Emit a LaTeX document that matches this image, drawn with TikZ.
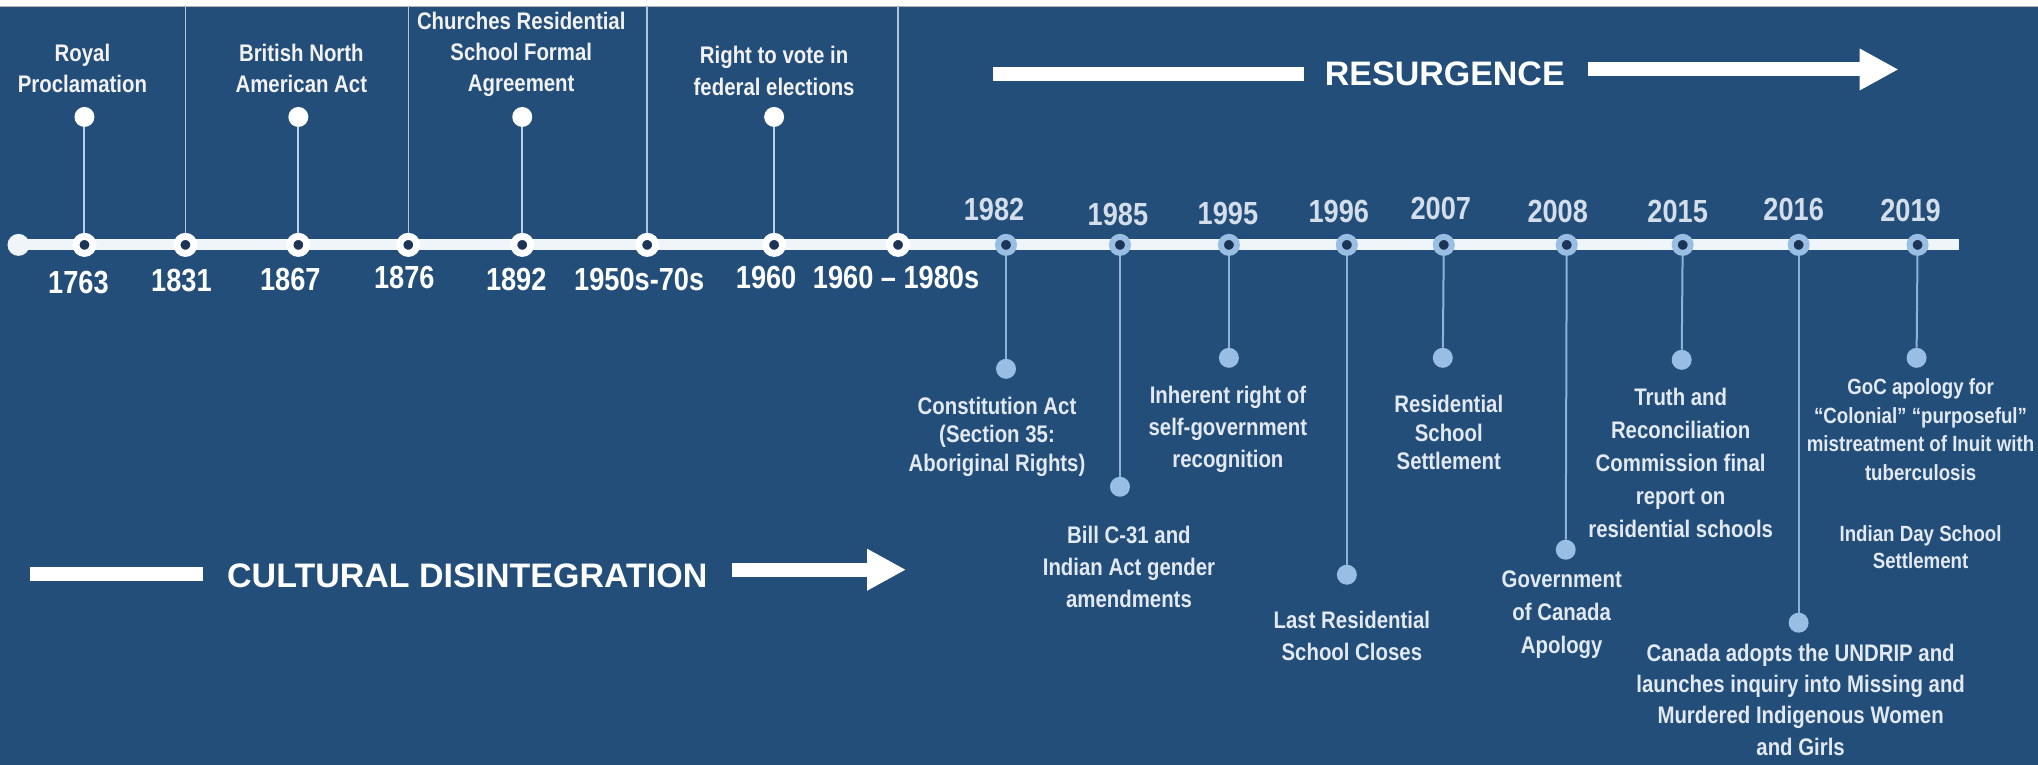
\documentclass[tikz,border=0pt]{standalone}
\usepackage{fontspec}
\setmainfont{Liberation Sans}[FakeStretch=0.85]
\newfontfamily\plainsans{Liberation Sans}
\usetikzlibrary{arrows.meta}
\definecolor{bgblue}{RGB}{35,78,122}
\definecolor{dotdark}{RGB}{28,52,86}
\definecolor{pinblue}{RGB}{152,190,228}
\definecolor{stemblue}{RGB}{140,178,218}
\definecolor{sepgray}{RGB}{178,196,218}
\definecolor{labellight}{RGB}{226,233,241}
\definecolor{yearlight}{RGB}{212,222,234}
\definecolor{axiswhite}{RGB}{240,245,250}
\begin{document}
\begin{tikzpicture}[x=1pt,y=-1pt,
  oldtick/.style={circle,draw=white,line width=7pt,fill=dotdark,minimum size=17pt,inner sep=0pt},
  newtick/.style={circle,draw=pinblue,line width=6pt,fill=dotdark,minimum size=16pt,inner sep=0pt},
  startdot/.style={circle,fill=axiswhite,minimum size=22pt,inner sep=0pt},
  uppin/.style={circle,fill=white,minimum size=20pt,inner sep=0pt},
  lowpin/.style={circle,fill=pinblue,minimum size=20pt,inner sep=0pt},
  upstem/.style={draw=stemblue!60!white,line width=2pt},
  lowstem/.style={draw=stemblue,line width=2pt},
  sepline/.style={draw=sepgray,line width=1.6pt},
  axis/.style={draw=axiswhite,line width=11pt},
  oldyear/.style={inner sep=0pt,text=white,font=\fontsize{32}{36}\selectfont\bfseries},
  newyear/.style={inner sep=0pt,text=yearlight,font=\fontsize{32}{36}\selectfont\bfseries},
  uplbl/.style={inner sep=0pt,align=center,text=white!95!black,font=\fontsize{24}{31}\selectfont\bfseries},
  lowlbl/.style={inner sep=0pt,align=center,text=labellight,font=\fontsize{24}{32}\selectfont\bfseries},
  eralbl/.style={inner sep=0pt,text=white,font=\plainsans\fontsize{34}{38}\selectfont\bfseries},
  erabar/.style={draw=white,line width=14pt},
  eraarrow/.style={draw=white,line width=14pt,-{Triangle[length=39pt,width=39pt]}}
]
% backdrop
\fill[white] (0,0) rectangle (2038,765);
\fill[bgblue] (0,7) rectangle (2038,765);
\draw[gray!60,line width=1pt] (0,7) -- (2038,7);
\useasboundingbox (0,0) rectangle (2038,765);

% main axis
\coordinate (axstart) at (18,245);
\coordinate (axend) at (1959,245);
\draw[axis] (axstart) -- (axend);
\node[startdot] (start) at (axstart) {};

% ticks on the axis
\node[oldtick] (n1763) at (84,245) {};
\node[oldtick] (n1831) at (185,245) {};
\node[oldtick] (n1867) at (298,245) {};
\node[oldtick] (n1876) at (408,245) {};
\node[oldtick] (n1892) at (522,245) {};
\node[oldtick] (n1950) at (647,245) {};
\node[oldtick] (n1960) at (774,245) {};
\node[oldtick] (n1960b) at (898,245) {};
\node[newtick] (n1982) at (1006,245) {};
\node[newtick] (n1985) at (1120,245) {};
\node[newtick] (n1995) at (1229,245) {};
\node[newtick] (n1996) at (1347,245) {};
\node[newtick] (n2007) at (1444,245) {};
\node[newtick] (n2008) at (1567,245) {};
\node[newtick] (n2015) at (1683,245) {};
\node[newtick] (n2016) at (1799,245) {};
\node[newtick] (n2019) at (1918,245) {};

% period separators rising to the top edge
\coordinate (t1831) at (185,7);
\coordinate (t1876) at (408,7);
\coordinate (t1950) at (647,7);
\coordinate (t1960b) at (898,7);
\draw[sepline] (t1831) -- (n1831);
\draw[sepline] (t1876) -- (n1876);
\draw[sepline] (t1950) -- (n1950);
\draw[sepline] (t1960b) -- (n1960b);

% pins above the axis
\node[uppin] (p1763) at (84,117) {};
\node[uppin] (p1867) at (298,117) {};
\node[uppin] (p1892) at (522,117) {};
\node[uppin] (p1960) at (774,117) {};
\draw[upstem] (p1763) -- (n1763);
\draw[upstem] (p1867) -- (n1867);
\draw[upstem] (p1892) -- (n1892);
\draw[upstem] (p1960) -- (n1960);

% pins below the axis
\node[lowpin] (p1982) at (1006,369) {};
\node[lowpin] (p1985) at (1120,487) {};
\node[lowpin] (p1995) at (1229,358) {};
\node[lowpin] (p1996) at (1347,575) {};
\node[lowpin] (p2007) at (1443,358) {};
\node[lowpin] (p2008) at (1566,550) {};
\node[lowpin] (p2015) at (1682,360) {};
\node[lowpin] (p2016) at (1799,623) {};
\node[lowpin] (p2019) at (1917,358) {};
\draw[lowstem] (n1982) -- (p1982);
\draw[lowstem] (n1985) -- (p1985);
\draw[lowstem] (n1995) -- (p1995);
\draw[lowstem] (n1996) -- (p1996);
\draw[lowstem] (n2007) -- (p2007);
\draw[lowstem] (n2008) -- (p2008);
\draw[lowstem] (n2015) -- (p2015);
\draw[lowstem] (n2016) -- (p2016);
\draw[lowstem] (n2019) -- (p2019);

% year labels
\node[oldyear] (y1763) at (78,283) {1763};
\node[oldyear] (y1831) at (181,281) {1831};
\node[oldyear] (y1867) at (290,280) {1867};
\node[oldyear] (y1876) at (404,278) {1876};
\node[oldyear] (y1892) at (516,280) {1892};
\node[oldyear] (y1950) at (639,280) {1950s-70s};
\node[oldyear] (y1960) at (766,278) {1960};
\node[oldyear] (y1960b) at (896,278) {1960 – 1980s};
\node[newyear] (y1982) at (994,210) {1982};
\node[newyear] (y1985) at (1118,215) {1985};
\node[newyear] (y1995) at (1228,214) {1995};
\node[newyear] (y1996) at (1339,212) {1996};
\node[newyear] (y2007) at (1441,209) {2007};
\node[newyear] (y2008) at (1558,212) {2008};
\node[newyear] (y2015) at (1678,212) {2015};
\node[newyear] (y2016) at (1794,210) {2016};
\node[newyear] (y2019) at (1911,211) {2019};

% event texts above the axis
\node[uplbl] (e1763) at (82,68) {Royal\\Proclamation};
\node[uplbl] (e1867) at (301,68) {British North\\American Act};
\node[uplbl] (e1892) at (521,54) {Churches Residential\\School Formal\\Agreement};
\node[uplbl,font=\fontsize{24}{32}\selectfont\bfseries] (e1960) at (774,71) {Right to vote in\\federal elections};

% event texts below the axis
\node[lowlbl,font=\fontsize{24}{28.5}\selectfont\bfseries] (e1982) at (997,437) {Constitution Act\\(Section 35:\\Aboriginal Rights)};
\node[lowlbl] (e1985) at (1129,567) {Bill C-31 and\\Indian Act gender\\amendments};
\node[lowlbl] (e1995) at (1228,430) {Inherent right of\\self-government\\recognition};
\node[lowlbl] (e1996) at (1352,636) {Last Residential\\School Closes};
\node[lowlbl,font=\fontsize{24}{28.5}\selectfont\bfseries] (e2007) at (1449,433) {Residential\\School\\Settlement};
\node[lowlbl,font=\fontsize{24}{33}\selectfont\bfseries] (e2008) at (1562,615) {Government\\of Canada\\Apology};
\node[lowlbl,font=\fontsize{24}{33}\selectfont\bfseries] (e2015) at (1681,463) {Truth and\\Reconciliation\\Commission final\\report on\\residential schools};
\node[lowlbl,font=\fontsize{24}{31.3}\selectfont\bfseries] (e2016) at (1801,700) {Canada adopts the UNDRIP and\\launches inquiry into Missing and\\Murdered Indigenous Women\\and Girls};
\node[lowlbl,font=\fontsize{22}{28.5}\selectfont\bfseries] (e2019) at (1921,430) {GoC apology for\\“Colonial” “purposeful”\\mistreatment of Inuit with\\tuberculosis};
\node[lowlbl,font=\fontsize{22}{27}\selectfont\bfseries] (e2019b) at (1921,547) {Indian Day School\\Settlement};

% era banners
\coordinate (rbarL) at (993,74.5);
\coordinate (rbarR) at (1304,74.5);
\coordinate (rarrL) at (1588,69.5);
\coordinate (rarrR) at (1899,69.5);
\draw[erabar] (rbarL) -- (rbarR);
\node[eralbl] (resurgence) at (1445,74) {RESURGENCE};
\draw[eraarrow] (rarrL) -- (rarrR);

\coordinate (cbarL) at (30,574);
\coordinate (cbarR) at (203,574);
\coordinate (carrL) at (732,570);
\coordinate (carrR) at (906,570);
\draw[erabar] (cbarL) -- (cbarR);
\node[eralbl] (cultural) at (467,576) {CULTURAL DISINTEGRATION};
\draw[eraarrow] (carrL) -- (carrR);
\end{tikzpicture}
\end{document}
